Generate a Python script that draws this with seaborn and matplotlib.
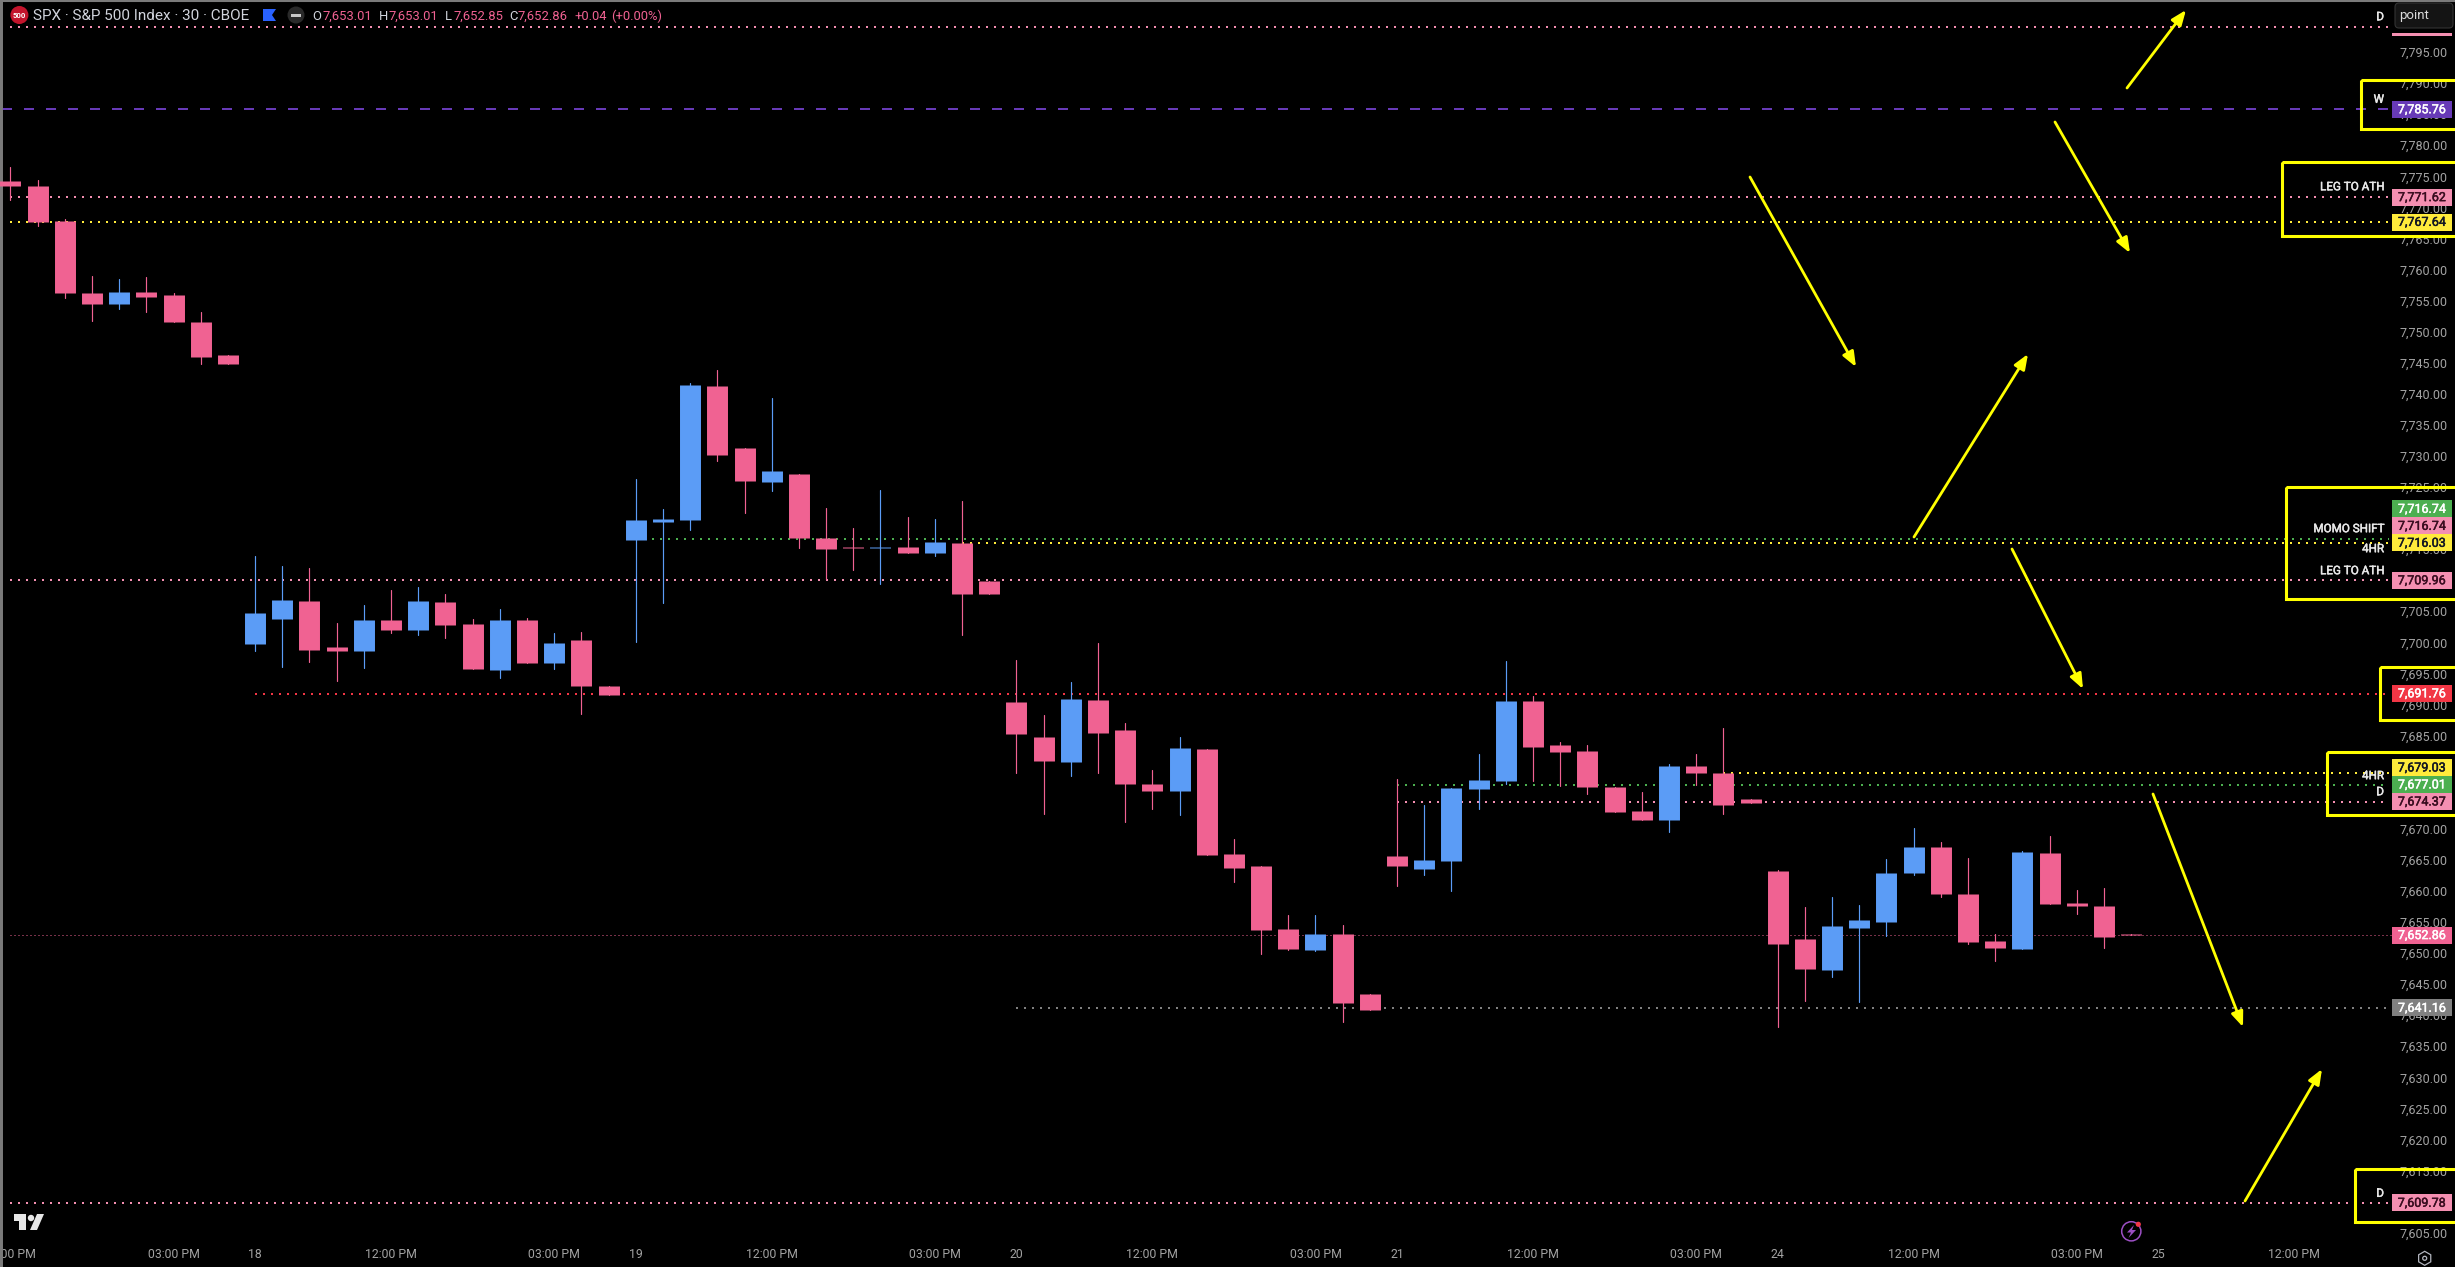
import matplotlib
matplotlib.use('Agg')
import matplotlib.patheffects as pe
import matplotlib.pyplot as plt
import pandas as pd
import seaborn as sns
from matplotlib.patches import Circle, FancyBboxPatch, Polygon, Rectangle, RegularPolygon
from matplotlib.transforms import Affine2D

W, H = 2455, 1267

# 30 min candles
opens = [7774.24, 7773.44, 7767.81, 7756.22, 7754.45, 7756.38, 7755.90, 7751.55, 7746.24,
         7699.73, 7703.75, 7706.65, 7699.25, 7698.60, 7703.59, 7701.98, 7706.49, 7702.95, 7695.55, 7703.59, 7696.67, 7700.37, 7692.97,
         7716.47, 7719.36, 7719.68, 7741.25, 7731.27, 7725.80, 7727.09, 7716.79, 7715.34, 7715.23, 7715.34, 7714.37, 7715.98, 7709.87,
         7690.39, 7684.76, 7680.74, 7690.72, 7685.89, 7677.20, 7676.07, 7682.83, 7665.93, 7664.00, 7653.87, 7650.49, 7653.06, 7643.41,
         7665.61, 7663.52, 7664.81, 7676.39, 7677.68, 7690.56, 7683.47, 7682.51, 7676.72, 7672.85, 7671.41, 7680.10, 7678.97, 7674.78,
         7663.21, 7652.26, 7647.28, 7654.04, 7655.00, 7662.89, 7667.07, 7659.51, 7651.94, 7650.66, 7666.10, 7658.06, 7657.58, 7653.01]
highs = [7776.50, 7774.40, 7768.13, 7758.96, 7758.47, 7758.80, 7756.17, 7753.16, 7746.24,
         7713.89, 7712.28, 7711.96, 7703.11, 7706.01, 7708.42, 7708.90, 7707.78, 7703.75, 7705.36, 7703.91, 7701.50, 7701.66, 7692.97,
         7726.28, 7721.45, 7741.73, 7743.82, 7731.27, 7739.32, 7727.09, 7721.62, 7718.40, 7724.51, 7720.17, 7719.85, 7722.74, 7709.87,
         7697.15, 7688.30, 7693.61, 7699.89, 7687.02, 7679.45, 7684.76, 7682.83, 7668.35, 7664.00, 7656.12, 7656.12, 7654.51, 7643.41,
         7678.00, 7673.82, 7676.56, 7682.03, 7696.99, 7691.36, 7683.96, 7683.47, 7676.72, 7675.91, 7680.42, 7682.03, 7686.21, 7674.78,
         7663.37, 7657.41, 7659.02, 7657.74, 7665.14, 7670.13, 7667.87, 7665.30, 7653.07, 7666.43, 7668.84, 7660.15, 7660.47, 7653.01]
lows = [7771.19, 7767.00, 7755.42, 7751.71, 7753.65, 7753.16, 7751.55, 7744.79, 7744.79,
        7698.60, 7696.03, 7696.83, 7693.78, 7695.87, 7701.50, 7701.18, 7700.70, 7695.71, 7694.26, 7696.67, 7695.71, 7688.47, 7691.52,
        7700.05, 7706.33, 7718.08, 7729.18, 7720.81, 7724.35, 7715.18, 7710.19, 7711.64, 7709.39, 7714.37, 7713.89, 7701.18, 7707.78,
        7678.97, 7672.37, 7678.49, 7678.97, 7671.08, 7673.18, 7672.21, 7665.77, 7661.43, 7649.84, 7650.49, 7650.33, 7638.90, 7640.83,
        7660.79, 7662.56, 7659.98, 7673.18, 7677.20, 7677.68, 7676.88, 7675.59, 7672.69, 7671.41, 7669.48, 7677.04, 7672.37, 7674.14,
        7638.10, 7642.29, 7646.15, 7642.13, 7652.69, 7662.56, 7659.02, 7651.46, 7648.72, 7650.66, 7657.90, 7656.29, 7650.82, 7652.85]
closes = [7773.44, 7767.65, 7756.22, 7754.45, 7756.38, 7755.58, 7751.55, 7745.92, 7744.79,
          7704.72, 7706.81, 7698.76, 7698.60, 7703.59, 7701.98, 7706.65, 7702.79, 7695.71, 7703.59, 7696.67, 7699.89, 7692.97, 7691.52,
          7719.68, 7719.85, 7741.41, 7730.14, 7725.96, 7727.57, 7716.79, 7715.02, 7715.23, 7715.34, 7714.37, 7716.14, 7707.78, 7707.78,
          7685.24, 7680.90, 7690.88, 7685.41, 7677.20, 7676.07, 7682.99, 7665.77, 7663.68, 7653.70, 7650.65, 7653.06, 7641.96, 7640.83,
          7664.00, 7664.97, 7676.56, 7677.84, 7690.56, 7683.15, 7682.35, 7676.72, 7672.69, 7671.41, 7680.10, 7678.97, 7673.82, 7674.14,
          7651.46, 7647.44, 7654.36, 7655.32, 7662.89, 7667.07, 7659.51, 7651.78, 7650.82, 7666.27, 7657.90, 7657.58, 7652.59, 7652.86]

# horizontal levels: price, first bar, colour
level_prices = [7799.02, 7785.76, 7771.62, 7767.64, 7716.63, 7716.03, 7709.96, 7691.76, 7679.03, 7677.01, 7674.37, 7652.86, 7641.16, 7609.78]
level_starts = [0, 0, 0, 0, 23, 35, 0, 9, 63, 51, 51, 0, 37, 0]
level_colors = ['#f48fb1', '#673ab7', '#f48fb1', '#ffeb3b', '#4caf50', '#ffeb3b', '#f48fb1', '#f23645',
                '#ffeb3b', '#4caf50', '#f48fb1', '#f06292', '#808080', '#f48fb1']

# price scale tags: value, where it sits on the scale, fill, text colour
tag_values = [7785.76, 7771.62, 7767.64, 7716.74, 7716.74, 7716.03, 7709.96, 7691.76, 7679.03, 7677.01, 7674.37, 7652.86, 7641.16, 7609.78]
tag_places = [7785.76, 7771.62, 7767.64, 7721.46, 7718.72, 7715.99, 7709.96, 7691.76, 7679.83, 7677.10, 7674.36, 7652.86, 7641.16, 7609.78]
tag_fills = ['#673ab7', '#f48fb1', '#ffeb3b', '#4caf50', '#f48fb1', '#ffeb3b', '#f48fb1', '#f23645',
             '#ffeb3b', '#4caf50', '#f48fb1', '#f06292', '#808080', '#f48fb1']
tag_inks = ['white', '#3a0d20', '#131722', 'white', '#3a0d20', '#131722', '#3a0d20', 'white',
            '#131722', 'white', '#3a0d20', 'white', 'white', '#3a0d20']

# notes beside the levels
note_texts = ['D', 'W', 'LEG TO ATH', 'MOMO SHIFT', '4HR', 'LEG TO ATH', '4HR', 'D', 'D']
note_places = [7800.68, 7787.39, 7773.32, 7718.29, 7715.07, 7711.53, 7678.54, 7675.96, 7611.33]

price_ticks = list(range(7605, 7800, 5))
time_ticks = [0, 6, 9, 14, 20, 23, 28, 34, 37, 42, 48, 51, 56, 62, 65, 70, 76, 79, 84]
time_labels = ['12:00 PM', '03:00 PM', '18', '12:00 PM', '03:00 PM', '19', '12:00 PM', '03:00 PM', '20', '12:00 PM',
               '03:00 PM', '21', '12:00 PM', '03:00 PM', '24', '12:00 PM', '03:00 PM', '25', '12:00 PM']

# hand drawn boxes and arrows, in picture pixels
boxes = [(2361, 80, 110, 49), (2282, 162, 190, 74), (2286, 487, 190, 112), (2380, 667, 90, 53), (2327, 752, 140, 63), (2355, 1169, 115, 53)]
arrows = [((2127, 88), (2186, 10)), ((2055, 122), (2130, 253)), ((1750, 177), (1856, 367)), ((1914, 537), (2028, 354)),
          ((2012, 549), (2083, 689)), ((2153, 794), (2243, 1027)), ((2245, 1201), (2322, 1069))]

PINK = '#f06292'
BLUE = '#5b9cf6'
YELLOW = '#ffff00'
GRAY = '#a3a3a3'

sns.set_theme(style='dark', rc={'figure.facecolor': 'black', 'axes.facecolor': 'black', 'axes.grid': False})
plt.rcParams['font.family'] = ['Roboto', 'DejaVu Sans']

df = pd.DataFrame({'open': opens, 'high': highs, 'low': lows, 'close': closes})
df['bar'] = df.index
df['side'] = ['up' if c >= o else 'down' for o, c in zip(opens, closes)]
wicks = df.melt(id_vars=['bar', 'side'], value_vars=['high', 'low'], value_name='price')
bodies = df.melt(id_vars=['bar', 'side'], value_vars=['open', 'close'], value_name='price')
colors = {'up': BLUE, 'down': PINK}

fig = plt.figure(figsize=(W / 100, H / 100), dpi=100)
ax = fig.add_axes([0, 0, 1, 1])
px = Affine2D().scale(1 / W, -1 / H).translate(0, 1) + fig.transFigure


def heavier(color, width=0.35):
    # the chart's labels are a bit heavier than regular Roboto
    return [pe.withStroke(linewidth=width, foreground=color)]


# levels go under the candles
for price, start, color in zip(level_prices, level_starts, level_colors):
    if color == '#673ab7':
        ax.plot([-0.3, 87.5], [price, price], color=color, lw=1.44, ls=(0, (5, 6)), dash_capstyle='butt', zorder=2)
    elif price == 7652.86:
        ax.plot([start, 87.6], [price, price], color=color, lw=0.72, ls=(0, (1, 3)), dash_capstyle='butt', zorder=2)
    else:
        ax.plot([start, 87.5], [price, price], color=color, lw=1.44, ls=(0, (1, 3)), dash_capstyle='butt', zorder=2)

sns.lineplot(data=wicks, x='bar', y='price', hue='side', palette=colors, units='bar', estimator=None, sort=False,
             legend=False, linewidth=0.85, zorder=3, ax=ax)
sns.lineplot(data=bodies, x='bar', y='price', hue='side', palette=colors, units='bar', estimator=None, sort=False,
             legend=False, linewidth=15.1, solid_capstyle='butt', zorder=3.1, ax=ax)

ax.set_xlim(-0.382, 89.91)
ax.set_ylim(7599.47, 7803.37)
ax.set_xlabel('')
ax.set_ylabel('')

ax.set_axisbelow(True)
ax.yaxis.tick_right()
ax.set_yticks(price_ticks)
ax.set_yticklabels([f'{p:,.2f}' for p in price_ticks])
ax.tick_params(axis='y', length=0, pad=-39.6, labelsize=9, labelcolor=GRAY)
ax.set_xticks(time_ticks)
ax.set_xticklabels(time_labels)
ax.tick_params(axis='x', length=0, pad=-13.5, labelsize=8.8, labelcolor=GRAY)

for s in ['right', 'bottom']:
    ax.spines[s].set_visible(False)
ax.spines['left'].set(color='#7a7a7a', linewidth=4.3, visible=True)
ax.spines['top'].set(color='#7a7a7a', linewidth=2.2, visible=True)

# price tags
for value, place, fill, ink in zip(tag_values, tag_places, tag_fills, tag_inks):
    ax.add_patch(Rectangle((87.59, place - 1.37), 2.207, 2.74, color=fill, lw=0, zorder=5))
    ax.text(88.69, place - 0.05, f'{value:,.2f}', color=ink, fontsize=9, ha='center', va='center', zorder=6,
            path_effects=heavier(ink))

for text, place in zip(note_texts, note_places):
    ax.text(87.3, place, text, color='#e8e8e8', fontsize=8.4, ha='right', va='center', zorder=6,
            path_effects=heavier('#e8e8e8'))

for x, y, w, h in boxes:
    ax.add_patch(Rectangle((x, y), w, h, transform=px, fill=False, edgecolor=YELLOW, lw=2.2, zorder=4))

for start, end in arrows:
    ax.annotate('', xy=end, xytext=start, xycoords=px, textcoords=px, zorder=4,
                arrowprops=dict(arrowstyle='-|>,head_length=0.9,head_width=0.36', mutation_scale=10, color=YELLOW,
                                lw=2.0, shrinkA=0, shrinkB=0))

# "point" box on the scale
ax.add_patch(Rectangle((2392, 33), 60, 3, transform=px, color='#f48fb1', lw=0, zorder=5))
ax.add_patch(FancyBboxPatch((2397, 5), 54, 21, boxstyle='round,pad=2,rounding_size=4', transform=px,
                            facecolor='#141414', edgecolor='#333333', lw=0.8, zorder=6))
ax.text(2399, 16, 'point', transform=px, color='#dbdbdb', fontsize=9.5, ha='left', va='center', zorder=7)

# header
ax.add_patch(Circle((19.4, 15), 9, transform=px, color='#c4142c', lw=0, zorder=6))
ax.text(19.4, 15.5, '500', transform=px, color='white', fontsize=5.6, fontweight='bold', ha='center', va='center', zorder=7)
ax.text(33, 16, 'SPX · S&P 500 Index · 30 · CBOE', transform=px, color='#d1d4dc', fontsize=11, ha='left', va='center', zorder=7)
ax.add_patch(Polygon([(263, 9), (276, 9), (272, 15), (276, 21), (263, 21)], transform=px, color='#2962ff', lw=0, zorder=6))
ax.add_patch(Circle((296, 15), 8.5, transform=px, color='#2a2a2a', lw=0, zorder=6))
ax.add_patch(Rectangle((291, 13.5), 10, 3, transform=px, color='#c8c8c8', lw=0, zorder=7))
for x, text, color in [(312, 'O', '#d1d4dc'), (322.4, '7,653.01', PINK), (378.6, 'H', '#d1d4dc'), (388.8, '7,653.01', PINK),
                       (445, 'L', '#d1d4dc'), (453, '7,652.85', PINK), (509, 'C', '#d1d4dc'), (518, '7,652.86', PINK),
                       (574.5, '+0.04', PINK), (611, '(+0.00%)', PINK)]:
    ax.text(x, 16, text, transform=px, color=color, fontsize=9.4, ha='left', va='center', zorder=7)

# TradingView mark
logo = '#e6e6e6'
ax.add_patch(Polygon([(14, 1214), (26, 1214), (26, 1230), (19, 1230), (19, 1221), (14, 1221)], transform=px, color=logo, lw=0, zorder=6))
ax.add_patch(Circle((31, 1218), 3.2, transform=px, color=logo, lw=0, zorder=6))
ax.add_patch(Polygon([(37, 1214), (44, 1214), (37, 1230), (30, 1230)], transform=px, color=logo, lw=0, zorder=6))

# lightning badge
ax.add_patch(Circle((2131.3, 1231.3), 9.6, transform=px, fill=False, edgecolor='#9c4fc4', lw=1.1, zorder=6))
ax.add_patch(Polygon([(2134, 1225), (2127, 1232.5), (2131, 1232.5), (2128.5, 1238), (2136, 1230), (2132, 1230)],
                     transform=px, color='#9c4fc4', lw=0, zorder=6))
ax.add_patch(Circle((2138.3, 1224.3), 2.6, transform=px, color='#f23645', lw=0, zorder=7))

# scale settings
ax.add_patch(RegularPolygon((2424.7, 1258.3), 6, radius=7, transform=px, fill=False, edgecolor='#b2b5be', lw=0.9, zorder=6))
ax.add_patch(Circle((2424.7, 1258.3), 2, transform=px, fill=False, edgecolor='#b2b5be', lw=0.9, zorder=6))

fig.savefig('out.png', dpi=100, facecolor='black')
